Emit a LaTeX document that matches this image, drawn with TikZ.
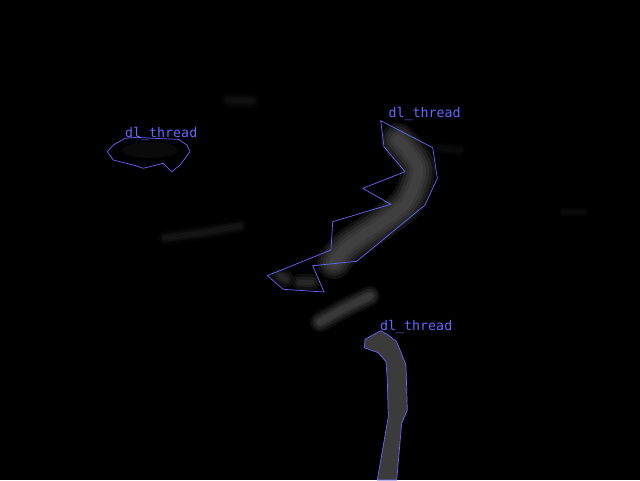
\documentclass[tikz,border=0pt]{standalone}
\usepackage{fontspec}
\newfontfamily\tagfont{DejaVu Sans Mono}
\begin{document}
\begin{tikzpicture}[x=1pt,y=-1pt,
  outline/.style={draw=blue!60!white,line width=0.7pt,line join=miter},
  tag/.style={text=blue!60!white,font=\tagfont\fontsize{13.3}{14}\selectfont,anchor=base west,inner sep=0pt}]
\fill[black] (0,0) rectangle (640,480);
\useasboundingbox (0,0) rectangle (640,480);
% faint smudges
\foreach \w/\c in {14/2,9/4,5/6}
\draw[white!\c!black,line width=\w,line cap=round] (228,100) -- (252,101);
\foreach \w/\c in {14/2,9/5,5/8}
\draw[white!\c!black,line width=\w,line cap=round] (165,238) -- (200,233) -- (240,226);
\foreach \w/\c in {10/2,6/4}
\draw[white!\c!black,line width=\w,line cap=round] (440,148) -- (460,150);
\foreach \w/\c in {8/2,4/4}
\draw[white!\c!black,line width=\w,line cap=round] (563,212) -- (585,212);
\fill[white!4!black] (150,150) ellipse [x radius=28,y radius=8];
% main thread, soft edges
\foreach \w/\c in {34/7,28/13,22/18,16/22,10/25}
\draw[white!\c!black,line width=\w,line cap=round,line join=round]
  plot[smooth] coordinates {(398,140) (418,168) (406,203) (374,228) (348,246) (334,262)};
\foreach \w/\c in {16/6,10/11,5/15}
\draw[white!\c!black,line width=\w,line cap=round] (280,276) -- (286,279);
\foreach \w/\c in {16/6,10/11,5/15}
\draw[white!\c!black,line width=\w,line cap=round] (300,282) -- (312,282);
% loose piece below
\foreach \w/\c in {20/6,15/12,10/18,6/22}
\draw[white!\c!black,line width=\w,line cap=round] (320,322) -- (345,308) -- (370,296);
% bottom thread
\fill[white!23!black] (380.7,330.7) -- (365,339.3) -- (364.3,347.7) -- (378.3,352.7)
  -- (386,361.7) -- (387.3,380) -- (388.3,416.7) -- (377.3,480) -- (396.7,480)
  -- (401.7,423.3) -- (407.3,410) -- (406,365) -- (396.7,341.7) -- (388.3,335) -- cycle;
% outlines
\draw[outline] (380.7,120.7) -- (384,146.7) -- (405,171.7) -- (362.7,188.3)
  -- (390.7,204.3) -- (332.7,221.7) -- (331,250) -- (267.3,275.7) -- (283.3,289.3)
  -- (324,292) -- (312.7,265.7) -- (356.7,261.3) -- (425,205) -- (437.3,178.3)
  -- (432.7,147.7) -- cycle;
\draw[outline] (125,138.3) -- (136.7,137.3) -- (153.3,138.3) -- (178.3,139.3)
  -- (187,145) -- (190,151.7) -- (180,165) -- (171.7,171.7) -- (163,163.3)
  -- (150,166.7) -- (143.3,168.3) -- (133.3,165) -- (113.3,160) -- (107.3,151.7)
  -- (113.3,145) -- cycle;
\draw[outline] (380.7,330.7) -- (365,339.3) -- (364.3,347.7) -- (378.3,352.7)
  -- (386,361.7) -- (387.3,380) -- (388.3,416.7) -- (377.3,480) -- (396.7,480)
  -- (401.7,423.3) -- (407.3,410) -- (406,365) -- (396.7,341.7) -- (388.3,335) -- cycle;
% labels
\node[tag] (tagtop) at (388.3,117.7) {dl\_thread};
\node[tag] (tagleft) at (125,137.5) {dl\_thread};
\node[tag] (tagbottom) at (380,330.5) {dl\_thread};
\end{tikzpicture}
\end{document}
